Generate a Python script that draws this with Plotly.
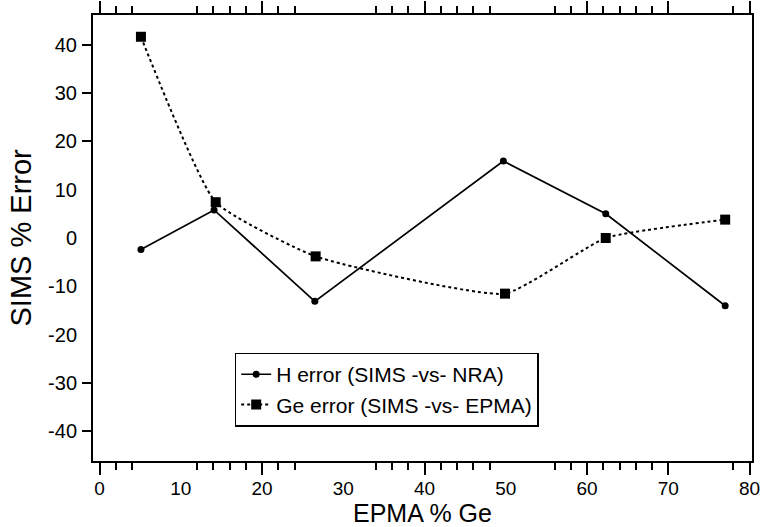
import plotly.graph_objects as go

# Data
h_x = [5.1, 14.1, 26.5, 49.7, 62.3, 77.0]
h_err = [-2.4, 5.8, -13.1, 15.9, 5.0, -14.0]
ge_x = [5.1, 14.3, 26.6, 49.9, 62.3, 77.0]
ge_err = [41.6, 7.4, -3.8, -11.5, 0.0, 3.8]

x_labels = [0, 10, 20, 30, 40, 50, 60, 70, 80]
x_major = [0, 20, 40, 60, 70, 80]
x_minor = [2, 4, 12, 14, 16, 18, 22, 24, 34, 36, 38, 42, 44, 46, 48,
           56, 58, 62, 64, 66, 68, 78]
y_labels = [-40, -30, -20, -10, 0, 10, 20, 30, 40]
y_ticks = [-40, -30, 20, 30, 40]

XR = [-0.8, 80.3]
YR = [-46.1, 46.1]
FONT = "Liberation Sans, Arial, sans-serif"

fig = go.Figure()
fig.add_trace(go.Scatter(
    x=h_x, y=h_err, mode="lines+markers", name="H error (SIMS -vs- NRA)",
    line=dict(color="black", width=1.7),
    marker=dict(symbol="circle", size=7, color="black"),
))
fig.add_trace(go.Scatter(
    x=ge_x, y=ge_err, mode="lines+markers", name="Ge error (SIMS -vs- EPMA)",
    xaxis="x2", yaxis="y2",
    line=dict(color="black", width=2, dash="dot", shape="spline", smoothing=0.45),
    marker=dict(symbol="square", size=10, color="black"),
))
# invisible copy so that the top tick axis is drawn
fig.add_trace(go.Scatter(
    x=h_x, y=h_err, mode="lines", xaxis="x3", yaxis="y",
    line=dict(color="rgba(0,0,0,0)", width=0), showlegend=False,
    hoverinfo="skip",
))

tick_axis = dict(range=XR, showgrid=False, zeroline=False, showticklabels=False,
                 tickmode="array", tickvals=x_major, ticks="outside", ticklen=13,
                 tickwidth=2, tickcolor="black", showline=False, automargin=False,
                 minor=dict(tickmode="array", tickvals=x_minor, ticks="outside",
                            ticklen=8, tickwidth=2, tickcolor="black",
                            showgrid=False))

fig.update_layout(
    width=761, height=527,
    margin=dict(l=93, r=9, t=15, b=66, autoexpand=False),
    paper_bgcolor="white", plot_bgcolor="white",
    font=dict(family=FONT, color="black", size=20),
    showlegend=True,
    legend=dict(x=0.215, y=0.243, xanchor="left", yanchor="top",
                bgcolor="white", bordercolor="black", borderwidth=1.5,
                tracegroupgap=0,
                font=dict(size=21, family=FONT)),
    xaxis=dict(range=XR, showgrid=False, zeroline=False, tickmode="array",
               tickvals=x_labels, ticktext=[str(v) for v in x_labels],
               ticks="outside", ticklen=9, automargin=False,
               tickcolor="rgba(0,0,0,0)", showline=True, linecolor="black",
               linewidth=2, mirror=True, tickfont=dict(size=19)),
    xaxis2=dict(overlaying="x", side="bottom", **tick_axis),
    xaxis3=dict(overlaying="x", side="top", **tick_axis),
    yaxis=dict(range=YR, showgrid=False, zeroline=False, tickmode="array",
               tickvals=y_labels, ticktext=[str(v) for v in y_labels],
               ticks="outside", ticklen=10, automargin=False,
               tickcolor="rgba(0,0,0,0)", showline=True, linecolor="black",
               linewidth=2, mirror=True, tickfont=dict(size=20)),
    yaxis2=dict(overlaying="y", side="left", range=YR, showgrid=False,
                zeroline=False, showticklabels=False, tickmode="array",
                tickvals=y_ticks, ticks="outside", ticklen=10, tickwidth=2,
                tickcolor="black", showline=False, automargin=False),
    annotations=[
        dict(text="SIMS % Error", xref="paper", yref="paper", x=-0.11, y=0.5,
             xanchor="center", yanchor="middle", textangle=-90, showarrow=False,
             font=dict(size=29, family=FONT)),
        dict(text="EPMA % Ge", xref="paper", yref="paper", x=0.5, y=-0.116,
             xanchor="center", yanchor="middle", showarrow=False,
             font=dict(size=25, family=FONT)),
    ],
)

fig.write_html("out.html")
